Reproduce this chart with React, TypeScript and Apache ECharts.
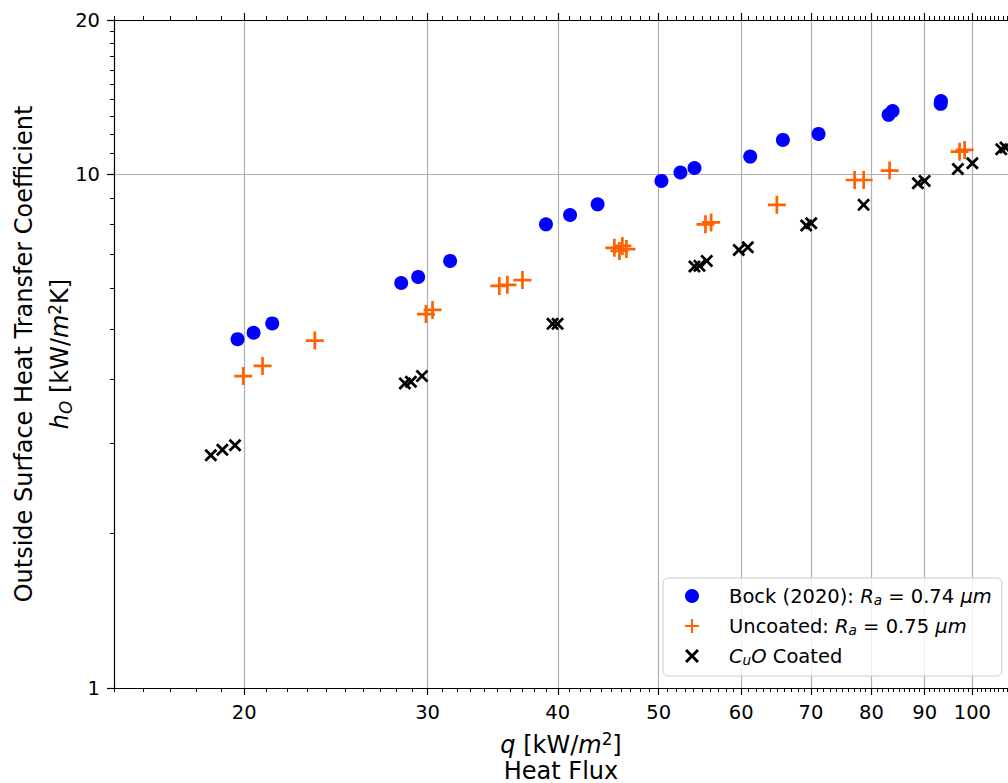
import React, { useEffect, useRef } from "react";
import * as echarts from "echarts";

// ---- data (q [kW/m^2], h_O [kW/m^2K]) ----
const bockQ = [19.71, 20.42, 21.28, 28.3, 29.38, 31.53, 38.97, 41.1, 43.68, 50.3, 52.46, 54.11, 61.2, 65.79, 71.18, 83.1, 83.84, 93.23, 93.3];
const bockH = [4.78, 4.92, 5.13, 6.15, 6.32, 6.79, 8.0, 8.34, 8.75, 9.72, 10.09, 10.3, 10.84, 11.68, 12.0, 13.07, 13.3, 13.73, 13.91];

const uncoatedQ = [19.96, 20.83, 23.38, 29.89, 30.33, 35.15, 35.78, 37.0, 45.33, 45.84, 46.14, 46.55, 55.44, 56.14, 64.92, 77.09, 78.64, 83.29, 97.22, 98.31];
const uncoatedH = [4.05, 4.24, 4.75, 5.35, 5.45, 6.07, 6.1, 6.23, 7.2, 7.1, 7.26, 7.16, 8.0, 8.07, 8.73, 9.76, 9.76, 10.18, 11.08, 11.17];

const cuoQ = [18.58, 19.06, 19.6, 28.53, 28.91, 29.63, 39.54, 39.98, 54.11, 54.71, 55.6, 59.68, 60.88, 69.27, 70.04, 78.64, 88.66, 89.99, 96.86, 100.0, 106.6, 107.6];
const cuoH = [2.84, 2.91, 2.97, 3.92, 3.95, 4.05, 5.12, 5.12, 6.62, 6.64, 6.79, 7.13, 7.22, 7.96, 8.04, 8.73, 9.62, 9.72, 10.25, 10.52, 11.2, 11.29];

const xMajorTicks = [20, 30, 40, 50, 60, 70, 80, 90, 100];
const yMajorTicks = [1, 10, 20];
const xMin = 15;
const xMax = 108.2;
const yMin = 1;
const yMax = 20;

const xMinorTicks: number[] = [];
for (let v = 15; v <= 108; v++) xMinorTicks.push(v);
const yMinorTicks: number[] = [];
for (let v = 1; v <= 20; v++) yMinorTicks.push(v);

const pair = (xs: number[], ys: number[]) => xs.map((x, i) => [x, ys[i]]);

const FONT = "DejaVu Sans";
const PLUS = "path://M8.5,0H11.5V8.5H20V11.5H11.5V20H8.5V11.5H0V8.5H8.5Z";
const CROSS = "path://M0,3L3,0L10,7L17,0L20,3L13,10L20,17L17,20L10,13L3,20L0,17L7,10Z";

// rich text styles: normal, italic, subscript, superscript for a line of height L
const makeRich = (fs: number, L: number) => ({
  n: { fontFamily: FONT, fontSize: fs, color: "#000", lineHeight: L },
  i: { fontFamily: FONT, fontSize: fs, fontStyle: "italic", color: "#000", lineHeight: L },
  sub: { fontFamily: FONT, fontSize: fs * 0.7, fontStyle: "italic", color: "#000", lineHeight: L - 0.6 * fs, verticalAlign: "bottom" },
  sup: { fontFamily: FONT, fontSize: fs * 0.7, color: "#000", lineHeight: L - 0.69 * fs, verticalAlign: "top" },
  sp: { width: 25, fontSize: fs, lineHeight: L },
});

export default function App() {
  const ref = useRef<HTMLDivElement>(null);
  useEffect(() => {
    document.body.style.margin = "0";
    const chart = echarts.init(ref.current!, undefined, { renderer: "svg" });
    const axisLineStyle = { color: "#000", width: 1.2 };
    const baseX = { type: "log" as const, logBase: 10, min: xMin, max: xMax, gridIndex: 0 };
    const baseY = { type: "log" as const, logBase: 10, min: yMin, max: yMax, gridIndex: 0 };
    const xTitleRich = {
      ...makeRich(24, 29),
      b: { fontFamily: FONT, fontSize: 24, color: "#000", lineHeight: 22 },
    };
    const yTitleRich = {
      ...makeRich(24, 28),
      a: { fontFamily: FONT, fontSize: 24, color: "#000", lineHeight: 45 },
    };
    const legendRich = makeRich(19.5, 22);
    const legendLabels: Record<string, string> = {
      bock: "{sp| }{n|Bock (2020): }{i|R}{sub|a}{n| = 0.74 }{i|μm}",
      unc: "{sp| }{n|Uncoated: }{i|R}{sub|a}{n| = 0.75 }{i|μm}",
      cuo: "{sp| }{i|C}{sub|u}{i|O}{n| Coated}",
    };
    const tickLabel = {
      show: true,
      margin: 14,
      fontFamily: FONT,
      fontSize: 19.5,
      color: "#000",
      formatter: (v: number) => String(Math.round(v)),
    };
    chart.setOption({
      animation: false,
      backgroundColor: "#fff",
      grid: { left: 114, top: 20, right: 0, bottom: 95, outerBoundsMode: "none", containLabel: false },
      xAxis: [
        {
          ...baseX,
          position: "bottom",
          axisLine: { show: true, lineStyle: axisLineStyle },
          axisTick: { show: true, length: 7, lineStyle: { color: "#000", width: 1.2 }, customValues: xMajorTicks },
          axisLabel: { ...tickLabel, customValues: xMajorTicks },
          splitLine: { show: true, lineStyle: { color: "#b0b0b0", width: 1.2 } },
          name: "{i|q}{n| [kW/}{i|m}{sup|2}{n|]}\n{b|Heat Flux}",
          nameLocation: "middle",
          nameGap: 42.5,
          nameMoveOverlap: false,
          nameTextStyle: { fontFamily: FONT, fontSize: 24, color: "#000", rich: xTitleRich },
        },
        {
          ...baseX,
          position: "bottom",
          axisLine: { show: false },
          axisTick: { show: true, length: 4, lineStyle: { color: "#000", width: 1 }, customValues: xMinorTicks },
          axisLabel: { show: false },
          splitLine: { show: false },
        },
        {
          ...baseX,
          position: "top",
          axisLine: { show: true, lineStyle: axisLineStyle },
          axisTick: { show: true, length: 7, lineStyle: { color: "#000", width: 1.2 }, customValues: xMajorTicks },
          axisLabel: { show: false },
          splitLine: { show: false },
        },
        {
          ...baseX,
          position: "top",
          axisLine: { show: false },
          axisTick: { show: true, length: 4, lineStyle: { color: "#000", width: 1 }, customValues: xMinorTicks },
          axisLabel: { show: false },
          splitLine: { show: false },
        },
      ],
      yAxis: [
        {
          ...baseY,
          position: "left",
          axisLine: { show: true, lineStyle: axisLineStyle },
          axisTick: { show: true, length: 7, lineStyle: { color: "#000", width: 1.2 }, customValues: yMajorTicks },
          axisLabel: { ...tickLabel, customValues: yMajorTicks },
          splitLine: { show: true, lineStyle: { color: "#b0b0b0", width: 1.2 } },
          name: "{a|Outside Surface Heat Transfer Coefficient}\n{i|h}{sub|O}{n| [kW/}{i|m}{sup|2}{n|K]}",
          nameLocation: "middle",
          nameGap: 40,
          nameRotate: 90,
          nameMoveOverlap: false,
          nameTextStyle: { fontFamily: FONT, fontSize: 24, color: "#000", rich: yTitleRich },
        },
        {
          ...baseY,
          position: "left",
          axisLine: { show: false },
          axisTick: { show: true, length: 4, lineStyle: { color: "#000", width: 1 }, customValues: yMinorTicks },
          axisLabel: { show: false },
          splitLine: { show: false },
        },
      ],
      legend: {
        orient: "vertical",
        left: 663,
        top: 578,
        padding: [8, 10, 9, 22],
        itemGap: 9,
        itemWidth: 14,
        itemHeight: 14,
        backgroundColor: "rgba(255,255,255,0.8)",
        borderColor: "#cccccc",
        borderWidth: 1,
        borderRadius: 5,
        textStyle: { fontFamily: FONT, fontSize: 19.5, color: "#000", rich: legendRich },
        formatter: (name: string) => legendLabels[name] || name,
        data: ["bock", "unc", "cuo"],
      },
      series: [
        {
          name: "bock",
          type: "scatter",
          xAxisIndex: 0,
          yAxisIndex: 0,
          data: pair(bockQ, bockH),
          symbol: "circle",
          symbolSize: 14,
          itemStyle: { color: "#0000ff", opacity: 1 },
          z: 3,
        },
        {
          name: "unc",
          type: "scatter",
          xAxisIndex: 0,
          yAxisIndex: 0,
          data: pair(uncoatedQ, uncoatedH),
          symbol: PLUS,
          symbolSize: 18,
          symbolKeepAspect: true,
          itemStyle: { color: "#ff6200", opacity: 1 },
          z: 4,
        },
        {
          name: "cuo",
          type: "scatter",
          xAxisIndex: 0,
          yAxisIndex: 0,
          data: pair(cuoQ, cuoH),
          symbol: CROSS,
          symbolSize: 13,
          symbolKeepAspect: true,
          itemStyle: { color: "#000000", opacity: 1 },
          z: 5,
        },
      ],
    });
    return () => chart.dispose();
  }, []);
  return <div ref={ref} style={{ width: 1008, height: 783 }} />;
}
